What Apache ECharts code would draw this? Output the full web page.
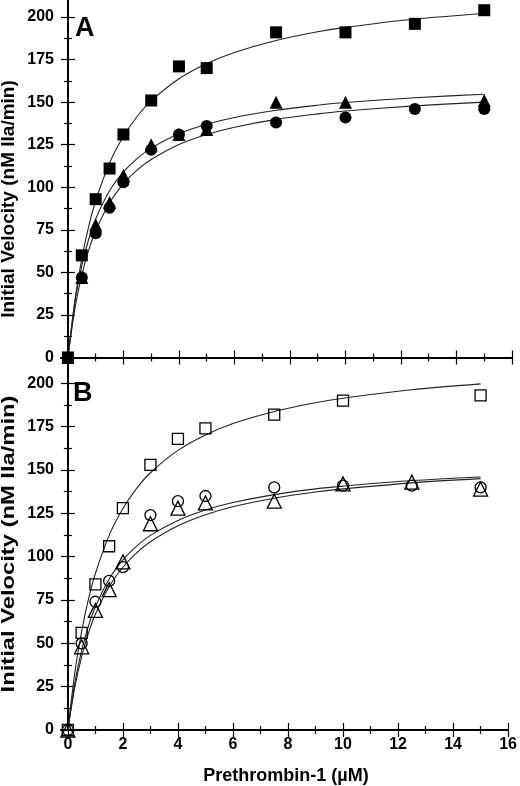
<!DOCTYPE html>
<html>
<head>
<meta charset="utf-8">
<script src="https://cdn.jsdelivr.net/npm/echarts@6/dist/echarts.min.js"></script>
<style>
  html, body { margin: 0; padding: 0; background: #fff; }
  #chart { width: 520px; height: 786px; }
</style>
</head>
<body>
<div id="chart"></div>
<script>
// Substrate concentrations (uM) for the measured points
const conc = [0, 0.5, 1, 1.5, 2, 3, 4, 5, 7.5, 10, 12.5, 15];

// Panel A, filled symbols
const squaresA = [0, 60, 93, 111, 131, 151, 171, 170, 191, 191, 196, 204];
const trianglesA = [0, 47, 78, 91, 107, 125, 131, 134, 150, 150, null, 151];
const circlesA = [0, 47, 73, 88, 103, 122, 131, 136, 138, 141, 146, 146];

// Panel B, open symbols
const squaresB = [0, 56, 84, 106, 128, 153, 168, 174, 182, 190, null, 193];
const circlesB = [0, 50, 74, 86, 94, 124, 132, 135, 140, 141, 141, 140];
const trianglesB = [0, 48, 69, 81, 97, 119, 128, 131, 132, 142, 143, 139];

// Fitted curves
const fitX = [0, 0.25, 0.5, 0.75, 1, 1.5, 2, 2.5, 3, 4, 5, 6, 7.5, 9, 10, 12.5, 15];
const fitSquaresA = [0, 33.5, 58.2, 77.1, 92.1, 114.3, 130, 141.7, 150.7, 163.7, 172.7, 179.2, 186.2, 191.3, 193.9, 198.8, 202.1];
const fitTrianglesA = [0, 32.3, 54, 69.6, 81.4, 97.9, 109, 117, 123, 131.4, 137, 141, 145.2, 148.2, 149.8, 152.6, 154.6];
const fitCirclesA = [0, 28.5, 48.4, 63.2, 74.5, 90.8, 102, 110.2, 116.3, 125.1, 131, 135.3, 139.9, 143.1, 144.8, 147.8, 150];
const fitSquaresB = [0, 32.7, 56.9, 75.6, 90.3, 112.3, 127.8, 139.4, 148.4, 161.3, 170.2, 176.8, 183.8, 188.8, 191.4, 196.3, 199.7];
const fitUpperB = [0, 26.9, 45.9, 60.1, 71.1, 87.1, 98.1, 106.1, 112.3, 120.9, 126.9, 131.2, 135.8, 139.1, 140.7, 143.9, 146];
const fitLowerB = [0, 24.4, 42.3, 56, 66.8, 82.7, 93.9, 102.2, 108.6, 117.8, 124.2, 128.8, 133.7, 137.3, 139.1, 142.6, 145];

// Tick positions
const xMajor = [0, 2, 4, 6, 8, 10, 12, 14, 16];
const xMinor = [1, 3, 5, 7, 9, 11, 13, 15];
const yMajor = [0, 25, 50, 75, 100, 125, 150, 175, 200];
const yMinor = [12.5, 37.5, 62.5, 87.5, 112.5, 137.5, 162.5, 187.5];

const FONT = '"Liberation Sans", Arial, sans-serif';

const pair = (xs, ys) => xs.map((x, i) => [x, ys[i]]).filter(p => p[1] !== null);

// one axis per side and tick size, labels only where needed
function makeAxis(gridIndex, position, min, max, ticks, len, labels) {
    return {
        type: 'value',
        gridIndex: gridIndex,
        position: position,
        min: min,
        max: max,
        axisLine: { show: true, lineStyle: { color: '#000', width: 1.5 } },
        axisTick: {
            show: true, inside: true, length: len, customValues: ticks,
            lineStyle: { color: '#000', width: 1.2 }
        },
        axisLabel: labels ? {
            show: true, customValues: ticks, margin: 7,
            color: '#000', fontFamily: FONT, fontWeight: 'bold', fontSize: 16
        } : { show: false },
        splitLine: { show: false }
    };
}

const xAxes = [];
const yAxes = [];
const yRanges = [[-5, 210], [0, 210]];
[0, 1].forEach(g => {
    xAxes.push(makeAxis(g, 'bottom', -0.25, 16, xMajor, 7, g === 1));
    xAxes.push(makeAxis(g, 'bottom', -0.25, 16, xMinor, 4, false));
    xAxes.push(makeAxis(g, 'top', -0.25, 16, xMajor, 7, false));
    xAxes.push(makeAxis(g, 'top', -0.25, 16, xMinor, 4, false));
    const r = yRanges[g];
    yAxes.push(makeAxis(g, 'left', r[0], r[1], yMajor, 7, true));
    yAxes.push(makeAxis(g, 'left', r[0], r[1], yMinor, 4, false));
    yAxes.push(makeAxis(g, 'right', r[0], r[1], yMajor, 7, false));
    yAxes.push(makeAxis(g, 'right', r[0], r[1], yMinor, 4, false));
});

function curve(panel, ys) {
    return {
        type: 'line',
        xAxisIndex: panel * 4,
        yAxisIndex: panel * 4,
        data: pair(fitX, ys),
        showSymbol: false,
        smooth: 0.3,
        lineStyle: { color: '#222', width: 1.1 },
        z: 1,
        silent: true
    };
}

function points(panel, ys, symbol, size, filled) {
    return {
        type: 'scatter',
        xAxisIndex: panel * 4,
        yAxisIndex: panel * 4,
        data: pair(conc, ys),
        symbol: symbol,
        symbolSize: size,
        itemStyle: filled
            ? { color: '#000', opacity: 1 }
            : { color: 'rgba(0,0,0,0)', borderColor: '#000', borderWidth: 1.3, opacity: 1 },
        z: 3
    };
}

const chart = echarts.init(document.getElementById('chart'));

chart.setOption({
    animation: false,
    backgroundColor: '#fff',
    grid: [
        { left: 61, right: 8, top: 0, height: 366 },
        { left: 61, right: 8, top: 366, height: 364 }
    ],
    xAxis: xAxes,
    yAxis: yAxes,
    series: [
        curve(0, fitSquaresA),
        curve(0, fitTrianglesA),
        curve(0, fitCirclesA),
        points(0, squaresA, 'rect', 12, true),
        points(0, trianglesA, 'triangle', 13, true),
        points(0, circlesA, 'circle', 12, true),
        curve(1, fitSquaresB),
        curve(1, fitUpperB),
        curve(1, fitLowerB),
        points(1, squaresB, 'rect', 11, false),
        points(1, circlesB, 'circle', 11, false),
        points(1, trianglesB, 'triangle', 14, false)
    ],
    graphic: [
        {
            type: 'text', x: 75, y: 29,
            style: { text: 'A', font: 'bold 27px ' + FONT, fill: '#000', textVerticalAlign: 'middle' }
        },
        {
            type: 'text', x: 73, y: 394,
            style: { text: 'B', font: 'bold 27px ' + FONT, fill: '#000', textVerticalAlign: 'middle' }
        },
        {
            type: 'text', x: 9, y: 199, rotation: Math.PI / 2,
            style: {
                text: 'Initial Velocity (nM IIa/min)', font: 'bold 19px ' + FONT, fill: '#000',
                textAlign: 'center', textVerticalAlign: 'middle'
            }
        },
        {
            type: 'text', x: 9, y: 544, rotation: Math.PI / 2, scaleX: 1.25,
            style: {
                text: 'Initial Velocity (nM IIa/min)', font: 'bold 19px ' + FONT, fill: '#000',
                textAlign: 'center', textVerticalAlign: 'middle'
            }
        },
        {
            type: 'text', x: 286, y: 776,
            style: {
                text: 'Prethrombin-1 (µM)', font: 'bold 18px ' + FONT, fill: '#000',
                textAlign: 'center', textVerticalAlign: 'middle'
            }
        }
    ]
});
</script>
</body>
</html>
